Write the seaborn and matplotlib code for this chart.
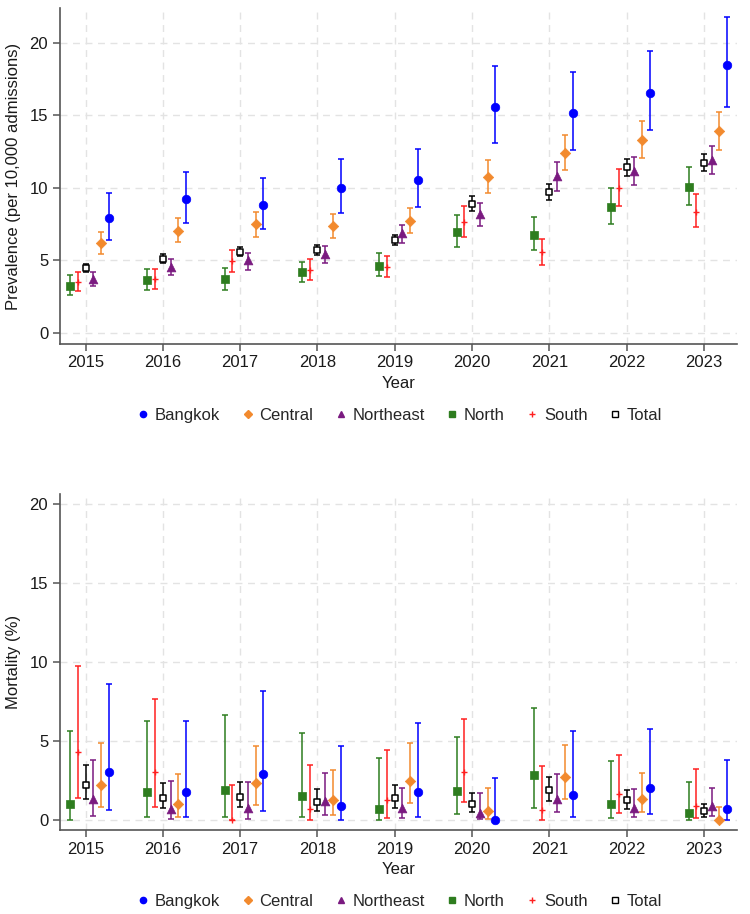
import numpy as np
import pandas as pd
import matplotlib
matplotlib.use("Agg")
import matplotlib.pyplot as plt
import seaborn as sns
from matplotlib.lines import Line2D

years = [2015, 2016, 2017, 2018, 2019, 2020, 2021, 2022, 2023]
regions = ["Bangkok", "Central", "Northeast", "North", "South", "Total"]

# prevalence per 10,000 admissions (estimate, lower, upper)
prev_bangkok = [7.94, 9.22, 8.83, 10.0, 10.55, 15.62, 15.14, 16.54, 18.49]
prev_bangkok_lo = [6.42, 7.57, 7.2, 8.26, 8.71, 13.12, 12.59, 13.99, 15.6]
prev_bangkok_hi = [9.68, 11.12, 10.71, 12.0, 12.68, 18.44, 18.03, 19.43, 21.77]
prev_central = [6.17, 7.06, 7.5, 7.38, 7.73, 10.74, 12.41, 13.28, 13.9]
prev_central_lo = [5.44, 6.26, 6.65, 6.58, 6.88, 9.63, 11.22, 12.06, 12.62]
prev_central_hi = [6.95, 7.91, 8.35, 8.23, 8.62, 11.9, 13.67, 14.59, 15.25]
prev_northeast = [3.74, 4.58, 5.05, 5.44, 6.88, 8.23, 10.83, 11.17, 11.93]
prev_northeast_lo = [3.21, 4.01, 4.36, 4.82, 6.19, 7.41, 9.79, 10.19, 10.94]
prev_northeast_hi = [4.22, 5.11, 5.53, 5.99, 7.48, 8.99, 11.81, 12.11, 12.91]
prev_north = [3.26, 3.67, 3.71, 4.17, 4.65, 6.97, 6.77, 8.71, 10.07]
prev_north_lo = [2.64, 2.98, 2.98, 3.48, 3.9, 5.96, 5.69, 7.52, 8.81]
prev_north_hi = [3.97, 4.4, 4.47, 4.9, 5.5, 8.14, 7.98, 10.02, 11.47]
prev_south = [3.53, 3.69, 4.93, 4.33, 4.54, 7.64, 5.57, 9.98, 8.37]
prev_south_lo = [2.91, 3.05, 4.17, 3.67, 3.85, 6.61, 4.7, 8.76, 7.3]
prev_south_hi = [4.22, 4.38, 5.71, 5.07, 5.3, 8.76, 6.49, 11.33, 9.57]
prev_total = [4.51, 5.11, 5.6, 5.71, 6.42, 8.92, 9.7, 11.42, 11.74]
prev_total_lo = [4.22, 4.82, 5.3, 5.41, 6.06, 8.42, 9.15, 10.85, 11.17]
prev_total_hi = [4.79, 5.44, 5.94, 6.06, 6.79, 9.45, 10.25, 12.0, 12.32]

# mortality % (estimate, lower, upper)
mort_bangkok = [3.02, 1.77, 2.89, 0.87, 1.75, 0.0, 1.58, 2.0, 0.68]
mort_bangkok_lo = [0.63, 0.19, 0.59, 0.02, 0.21, 0.0, 0.19, 0.4, 0.0]
mort_bangkok_hi = [8.61, 6.28, 8.18, 4.66, 6.14, 2.64, 5.61, 5.78, 3.78]
mort_central = [2.23, 0.99, 2.32, 1.27, 2.49, 0.59, 2.7, 1.35, 0.0]
mort_central_lo = [0.82, 0.19, 0.93, 0.34, 1.1, 0.06, 1.33, 0.49, 0.0]
mort_central_hi = [4.85, 2.91, 4.7, 3.16, 4.85, 2.05, 4.77, 2.95, 0.84]
mort_northeast = [1.33, 0.72, 0.74, 1.2, 0.74, 0.46, 1.35, 0.78, 0.91]
mort_northeast_lo = [0.25, 0.06, 0.06, 0.32, 0.13, 0.06, 0.49, 0.19, 0.27]
mort_northeast_hi = [3.77, 2.47, 2.43, 2.95, 2.0, 1.71, 2.89, 1.94, 2.0]
mort_north = [1.01, 1.75, 1.88, 1.54, 0.7, 1.84, 2.83, 1.03, 0.42]
mort_north_lo = [0.02, 0.19, 0.21, 0.19, 0.02, 0.36, 0.78, 0.13, 0.02]
mort_north_hi = [5.61, 6.25, 6.65, 5.49, 3.9, 5.23, 7.11, 3.73, 2.43]
mort_south = [4.3, 3.06, 0.0, 0.68, 1.27, 3.02, 0.63, 1.62, 0.89]
mort_south_lo = [1.39, 0.82, 0.0, 0.02, 0.15, 1.12, 0.0, 0.46, 0.11]
mort_south_hi = [9.77, 7.64, 2.2, 3.5, 4.41, 6.39, 3.42, 4.11, 3.21]
mort_total = [2.22, 1.37, 1.46, 1.14, 1.39, 1.01, 1.9, 1.27, 0.55]
mort_total_lo = [1.31, 0.74, 0.8, 0.57, 0.78, 0.53, 1.22, 0.72, 0.21]
mort_total_hi = [3.5, 2.34, 2.43, 1.94, 2.22, 1.73, 2.74, 1.9, 1.03]

prev = {
    "Bangkok": (prev_bangkok, prev_bangkok_lo, prev_bangkok_hi),
    "Central": (prev_central, prev_central_lo, prev_central_hi),
    "Northeast": (prev_northeast, prev_northeast_lo, prev_northeast_hi),
    "North": (prev_north, prev_north_lo, prev_north_hi),
    "South": (prev_south, prev_south_lo, prev_south_hi),
    "Total": (prev_total, prev_total_lo, prev_total_hi),
}
mort = {
    "Bangkok": (mort_bangkok, mort_bangkok_lo, mort_bangkok_hi),
    "Central": (mort_central, mort_central_lo, mort_central_hi),
    "Northeast": (mort_northeast, mort_northeast_lo, mort_northeast_hi),
    "North": (mort_north, mort_north_lo, mort_north_hi),
    "South": (mort_south, mort_south_lo, mort_south_hi),
    "Total": (mort_total, mort_total_lo, mort_total_hi),
}

# styling
colors = {"Bangkok": "#0000ff", "Central": "#f28a2e", "Northeast": "#7a1a80",
          "North": "#2e7d1f", "South": "#ff2020", "Total": "#000000"}
markers = {"Bangkok": "o", "Central": "D", "Northeast": "^",
           "North": "s", "South": "+", "Total": "s"}
sizes = {"Bangkok": 38, "Central": 28, "Northeast": 40,
         "North": 34, "South": 22, "Total": 20}
offsets = {"North": -0.2, "South": -0.1, "Total": 0.0,
           "Northeast": 0.1, "Central": 0.2, "Bangkok": 0.3}
draw_order = ["North", "South", "Total", "Northeast", "Central", "Bangkok"]


def to_frame(d):
    rows = []
    for r, (est, lo, hi) in d.items():
        for i, y in enumerate(years):
            rows.append({"region": r, "year": y, "x": y + offsets[r],
                         "est": est[i], "lo": lo[i], "hi": hi[i]})
    return pd.DataFrame(rows)


sns.set_theme(style="white")
plt.rcParams["font.family"] = ["Liberation Sans", "DejaVu Sans"]

fig = plt.figure(figsize=(7.5, 9.14), dpi=100)
ax1 = fig.add_axes([0.08, 0.624, 0.903, 0.367])
ax2 = fig.add_axes([0.08, 0.092, 0.903, 0.367])


def panel(ax, df, ylabel, ylim):
    for r in draw_order:
        sub = df[df.region == r]
        ax.errorbar(sub.x, sub.est, yerr=[sub.est - sub.lo, sub.hi - sub.est],
                    fmt="none", ecolor=colors[r], elinewidth=1.1,
                    capsize=2.4, capthick=1.1, zorder=2)
        if r == "Total":
            sns.scatterplot(data=sub, x="x", y="est", ax=ax, marker="s",
                            s=sizes[r], facecolor="white", edgecolor="black",
                            linewidth=1.1, zorder=3, legend=False)
        elif r == "South":
            sns.scatterplot(data=sub, x="x", y="est", ax=ax, marker="+",
                            s=sizes[r], color=colors[r], linewidth=1.0,
                            zorder=3, legend=False)
        else:
            sns.scatterplot(data=sub, x="x", y="est", ax=ax, marker=markers[r],
                            s=sizes[r], color=colors[r], edgecolor=colors[r],
                            linewidth=0.5, zorder=3, legend=False)
    ax.set_xlim(2014.67, 2023.43)
    ax.set_ylim(*ylim)
    ax.set_xticks(years)
    ax.set_yticks([0, 5, 10, 15, 20])
    ax.grid(True, color="#e3e3e3", linestyle=(0, (5, 4)), linewidth=1.0)
    ax.set_axisbelow(True)
    for s in ["top", "right"]:
        ax.spines[s].set_visible(False)
    for s in ["left", "bottom"]:
        ax.spines[s].set_color("#555555")
        ax.spines[s].set_linewidth(1.2)
    ax.tick_params(axis="both", direction="out", length=5, width=1.1,
                   color="#555555", labelsize=12, labelcolor="#1a1a1a",
                   bottom=True, left=True)
    ax.set_xlabel("Year", fontsize=12, color="#1a1a1a", labelpad=4)
    ax.set_ylabel(ylabel, fontsize=12, color="#1a1a1a", labelpad=6)

    handles = []
    for r in regions:
        if r == "Total":
            h = Line2D([], [], ls="none", marker="s", ms=4.5, mfc="white",
                       mec="black", mew=1.0)
        elif r == "South":
            h = Line2D([], [], ls="none", marker="+", ms=4.5, color=colors[r],
                       mew=1.0)
        else:
            h = Line2D([], [], ls="none", marker=markers[r], ms=4.5,
                       color=colors[r])
        handles.append(h)
    ax.legend(handles, regions, loc="center", bbox_to_anchor=(0.5, -0.214),
              ncol=6, frameon=False, fontsize=12, handletextpad=0.2,
              columnspacing=1.15, handlelength=1.0)


panel(ax1, to_frame(prev), "Prevalence (per 10,000 admissions)", (-0.74, 22.4))
panel(ax2, to_frame(mort), "Mortality (%)", (-0.63, 20.63))

fig.savefig("out.png", dpi=100)
